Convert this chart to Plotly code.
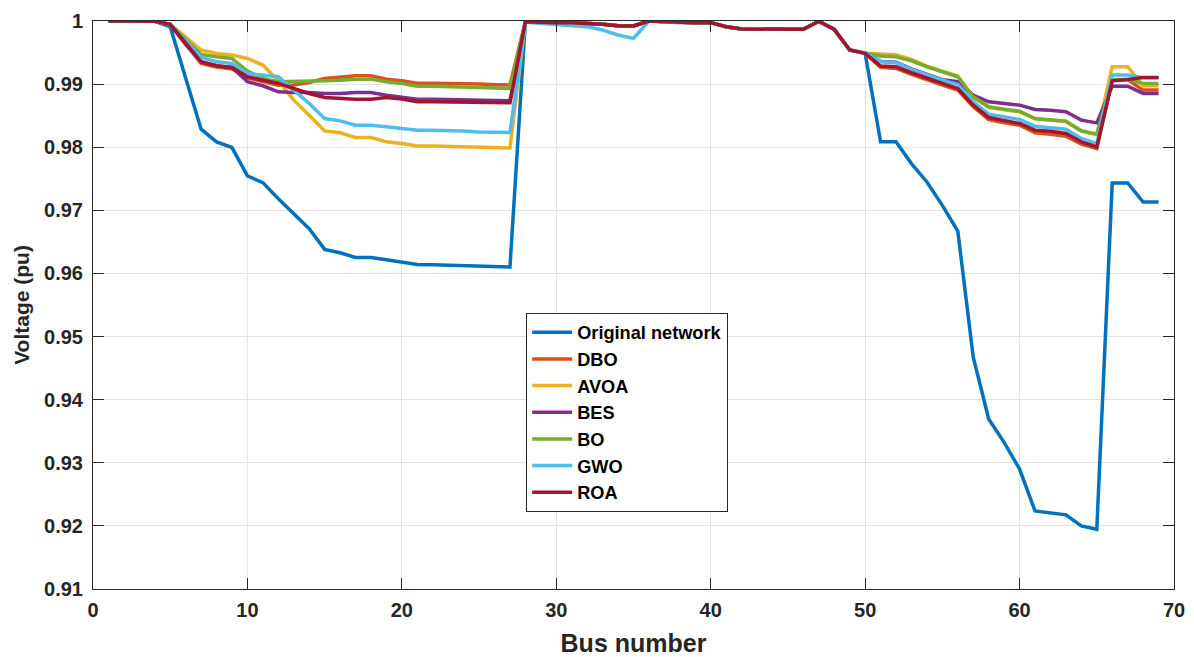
import plotly.graph_objects as go

bus = list(range(1, 70))

original = [1.0, 1.0, 0.99999, 0.99995, 0.9991, 0.9910, 0.98286, 0.98085, 0.97995, 0.97545,
            0.97439, 0.97185, 0.96947, 0.96709, 0.96381, 0.96328, 0.96254, 0.96254, 0.96217, 0.96185,
            0.96143, 0.96138, 0.96132, 0.96122, 0.96111, 0.96106, 0.96101,
            0.99989, 0.99979, 0.99974, 0.99974, 0.99963, 0.99947, 0.99926, 0.99921, 1.0, 0.99989,
            0.99974, 0.99974, 0.99974, 0.9991, 0.99873, 0.99873, 0.99873, 0.99868, 0.99868, 0.99995,
            0.99868, 0.9954, 0.99487,
            0.98085, 0.98085, 0.97741, 0.9745, 0.97079, 0.96672, 0.94672, 0.93693, 0.93323, 0.929,
            0.92238, 0.92212, 0.92175, 0.92, 0.91947, 0.97434, 0.97434, 0.97132, 0.97132]

dbo = [1.0, 1.0, 0.99999, 0.99995, 0.99947, 0.9963, 0.99328, 0.9927, 0.99238, 0.991,
       0.99037, 0.9898, 0.98985, 0.99025, 0.9909, 0.99106, 0.99132, 0.99132, 0.99079, 0.99053,
       0.99015, 0.99015, 0.99012, 0.9901, 0.99, 0.9899, 0.98984,
       0.99989, 0.99979, 0.99974, 0.99974, 0.99963, 0.99947, 0.99926, 0.99921, 1.0, 0.99989,
       0.99974, 0.99974, 0.99974, 0.9991, 0.99873, 0.99873, 0.99873, 0.99868, 0.99868, 0.99995,
       0.99868, 0.9954, 0.99487,
       0.99265, 0.99249, 0.99153, 0.99063, 0.98984, 0.98905, 0.9864, 0.98439, 0.98386, 0.98349,
       0.9823, 0.98206, 0.98175, 0.98048, 0.97979, 0.9907, 0.9907, 0.98905, 0.98905]

avoa = [1.0, 1.0, 0.99999, 0.99995, 0.99947, 0.9975, 0.9954, 0.99487, 0.9946, 0.99407,
        0.99302, 0.9905, 0.98746, 0.98508, 0.98259, 0.98228, 0.98153, 0.98153, 0.98085, 0.98058,
        0.98021, 0.98021, 0.98016, 0.98005, 0.97995, 0.97989, 0.97989,
        0.99989, 0.99979, 0.99974, 0.99974, 0.99963, 0.99947, 0.99926, 0.99921, 1.0, 0.99989,
        0.99974, 0.99974, 0.99974, 0.9991, 0.99873, 0.99873, 0.99873, 0.99868, 0.99868, 0.99995,
        0.99868, 0.9954, 0.99487,
        0.99476, 0.99466, 0.99392, 0.99286, 0.99206, 0.99127, 0.98788, 0.9863, 0.98593, 0.98561,
        0.9845, 0.98434, 0.98408, 0.98255, 0.982, 0.99275, 0.99275, 0.98974, 0.98974]

bes = [1.0, 1.0, 0.99999, 0.99995, 0.99947, 0.9963, 0.9935, 0.9929, 0.99265, 0.99037,
       0.98974, 0.98878, 0.98868, 0.98868, 0.98852, 0.98852, 0.98868, 0.98868, 0.98825, 0.98799,
       0.98762, 0.98762, 0.98757, 0.98746, 0.98735, 0.98735, 0.98735,
       0.99989, 0.99979, 0.99974, 0.99974, 0.99963, 0.99947, 0.99926, 0.99921, 1.0, 0.99989,
       0.99974, 0.99974, 0.99974, 0.9991, 0.99873, 0.99873, 0.99873, 0.99868, 0.99868, 0.99995,
       0.99868, 0.9954, 0.99487,
       0.9936, 0.99345, 0.9924, 0.9915, 0.9907, 0.99037, 0.98825, 0.9872, 0.98693, 0.98667,
       0.98598, 0.98587, 0.98561, 0.98429, 0.98386, 0.98968, 0.98968, 0.98852, 0.98852]

bo = [1.0, 1.0, 0.99999, 0.99995, 0.99947, 0.9970, 0.99471, 0.99434, 0.99407, 0.99206,
      0.9909, 0.99037, 0.99042, 0.99037, 0.99053, 0.99063, 0.99079, 0.99079, 0.99037, 0.99011,
      0.98968, 0.98968, 0.98965, 0.98958, 0.98947, 0.98937, 0.98931,
      0.99989, 0.99979, 0.99974, 0.99974, 0.99963, 0.99947, 0.99926, 0.99921, 1.0, 0.99989,
      0.99974, 0.99974, 0.99974, 0.9991, 0.99873, 0.99873, 0.99873, 0.99868, 0.99868, 0.99995,
      0.99868, 0.9954, 0.99487,
      0.99444, 0.99434, 0.9937, 0.99275, 0.99196, 0.99116, 0.98799, 0.9864, 0.98603, 0.98571,
      0.98455, 0.98439, 0.98413, 0.9826, 0.98206, 0.99074, 0.99074, 0.99011, 0.99011]

gwo = [1.0, 1.0, 0.99999, 0.99995, 0.99947, 0.9968, 0.99423, 0.99354, 0.99328, 0.99169,
       0.99143, 0.99116, 0.98905, 0.98693, 0.98455, 0.98418, 0.98349, 0.98349, 0.98323, 0.98296,
       0.9827, 0.9827, 0.9827, 0.98259, 0.98243, 0.98233, 0.98233,
       0.99979, 0.99963, 0.99952, 0.99937, 0.9991, 0.99857, 0.99778, 0.99725, 1.0, 0.99989,
       0.99974, 0.99974, 0.99974, 0.9991, 0.99873, 0.99873, 0.99873, 0.99868, 0.99868, 0.99995,
       0.99868, 0.9954, 0.99487,
       0.99354, 0.99339, 0.99233, 0.99143, 0.99063, 0.98995, 0.9872, 0.98524, 0.98481, 0.98439,
       0.98333, 0.98312, 0.98286, 0.98138, 0.98058, 0.99143, 0.99143, 0.991, 0.991]

roa = [1.0, 1.0, 0.99999, 0.99995, 0.99947, 0.9965, 0.99354, 0.99291, 0.99265, 0.99116,
       0.99063, 0.99011, 0.98931, 0.98852, 0.98788, 0.98772, 0.98762, 0.98762, 0.98788, 0.98762,
       0.9872, 0.9872, 0.98715, 0.98712, 0.98709, 0.98705, 0.98704,
       0.99989, 0.99979, 0.99974, 0.99974, 0.99963, 0.99947, 0.99926, 0.99921, 1.0, 0.99989,
       0.99974, 0.99974, 0.99974, 0.9991, 0.99873, 0.99873, 0.99873, 0.99868, 0.99868, 0.99995,
       0.99868, 0.9954, 0.99487,
       0.99286, 0.99275, 0.9918, 0.9909, 0.99011, 0.98931, 0.98667, 0.98471, 0.98418, 0.98376,
       0.9827, 0.98254, 0.98217, 0.98085, 0.98005, 0.99053, 0.99074, 0.99106, 0.99106]

series_names = ["Original network", "DBO", "AVOA", "BES", "BO", "GWO", "ROA"]
series_values = [original, dbo, avoa, bes, bo, gwo, roa]
series_colors = ["#0072BD", "#D95319", "#EDB120", "#7E2F8E", "#77AC30", "#4DBEEE", "#A2142F"]

x_ticks = [0, 10, 20, 30, 40, 50, 60, 70]
y_ticks = [0.91, 0.92, 0.93, 0.94, 0.95, 0.96, 0.97, 0.98, 0.99, 1.0]
y_ticktext = ["0.91", "0.92", "0.93", "0.94", "0.95", "0.96", "0.97", "0.98", "0.99", "1"]

FONT = "Liberation Sans, Arial, sans-serif"

fig = go.Figure()
for name, vals, col in zip(series_names, series_values, series_colors):
    fig.add_trace(go.Scatter(x=bus, y=vals, mode="lines", name=name,
                             line=dict(color=col, width=3.5)))

axis_font = dict(family=FONT, size=20, color="#262626", weight="bold")
fig.update_layout(
    width=1194, height=657,
    margin=dict(l=93, r=20, t=21, b=68),
    plot_bgcolor="white", paper_bgcolor="white",
    showlegend=True,
    legend=dict(x=0.4007, y=0.486, xanchor="left", yanchor="top",
                bgcolor="white", bordercolor="#262626", borderwidth=1,
                itemwidth=40, tracegroupgap=0,
                font=dict(family=FONT, size=18.2, color="black", weight="bold")),
)
fig.update_xaxes(range=[0, 70], tickvals=x_ticks, ticks="inside", ticklen=11, tickwidth=1,
                 tickcolor="#262626", showline=True, linecolor="#262626", linewidth=1, mirror="allticks",
                 showgrid=True, gridcolor="#e3e3e3", gridwidth=1, zeroline=False, automargin=False,
                 tickfont=axis_font, ticklabelstandoff=3,
                 title=dict(text="Bus number", font=dict(family=FONT, size=25, color="#262626", weight="bold"),
                            standoff=16))
fig.update_yaxes(range=[0.91, 1.0], tickvals=y_ticks, ticktext=y_ticktext, ticks="inside", ticklen=11,
                 tickwidth=1, tickcolor="#262626", showline=True, linecolor="#262626", linewidth=1,
                 mirror="allticks", showgrid=True, gridcolor="#e3e3e3", gridwidth=1, zeroline=False,
                 automargin=False, tickfont=axis_font, ticklabelstandoff=5,
                 title=dict(text="Voltage (pu)", font=dict(family=FONT, size=21, color="#262626", weight="bold"),
                            standoff=8))

fig.write_html("out.html")
